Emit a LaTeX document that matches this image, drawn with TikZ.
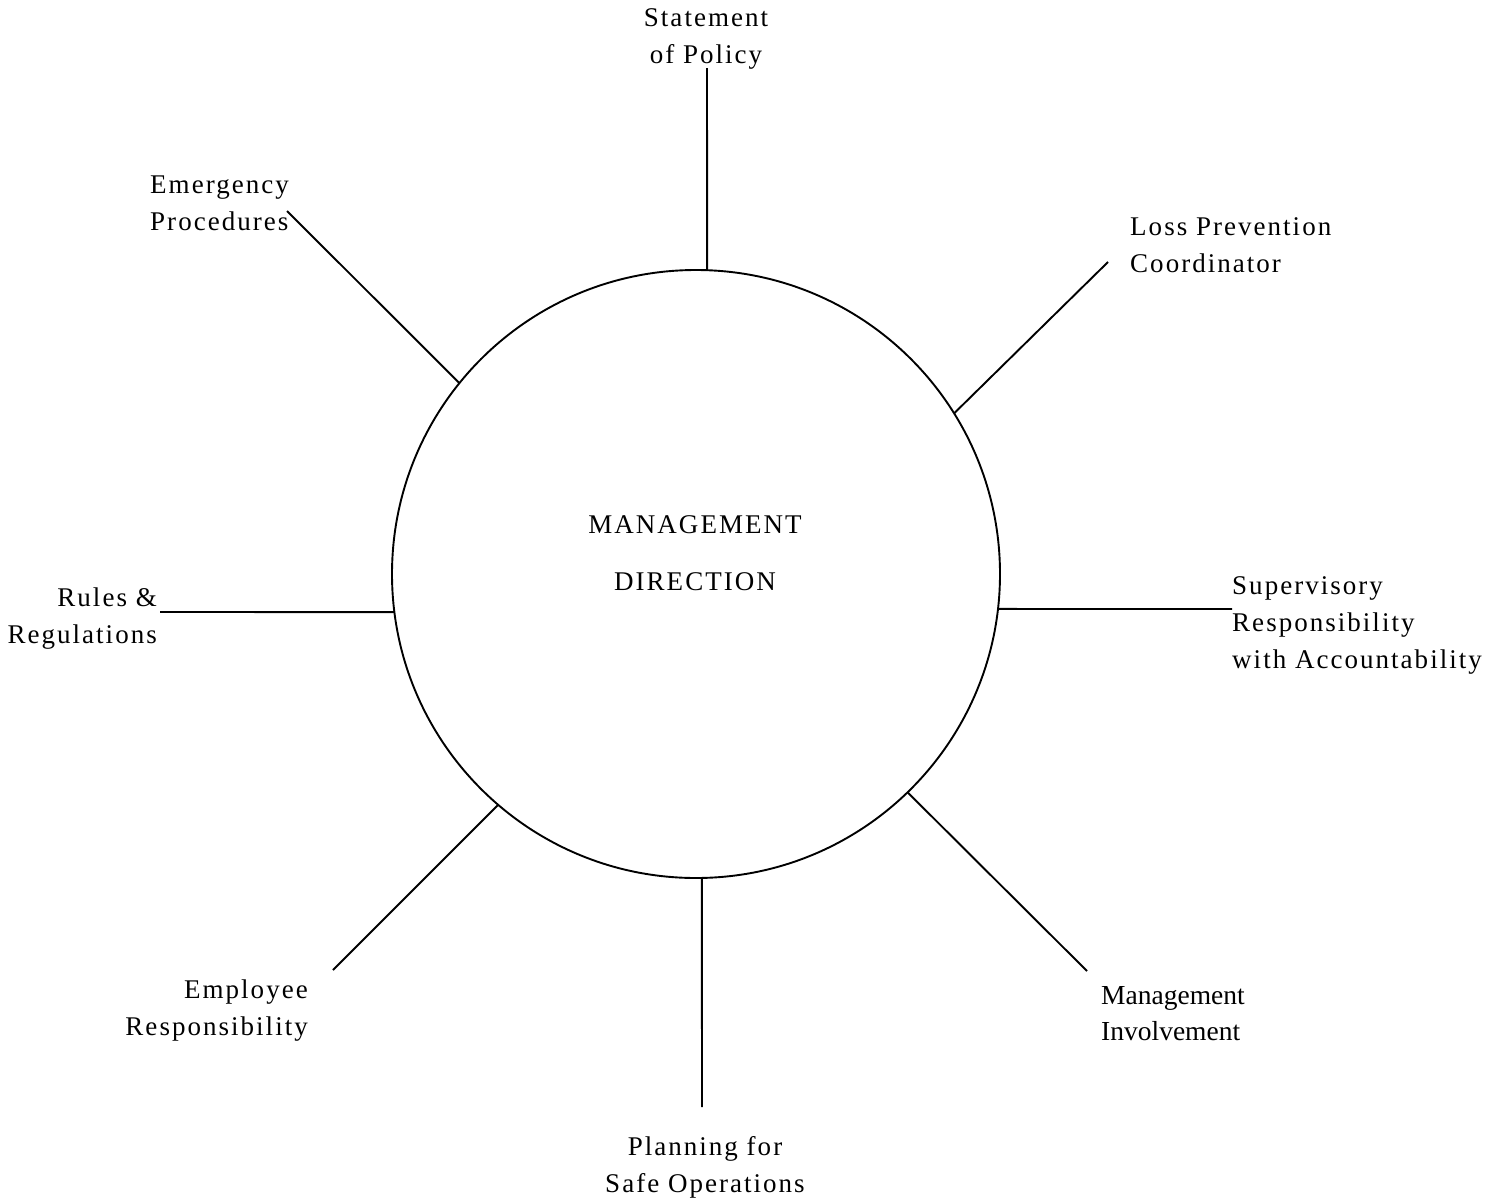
\documentclass[tikz,border=0pt]{standalone}
\usepackage{fontspec}
\setmainfont{Liberation Serif}
\newfontfamily\spaced[LetterSpace=7.5]{Liberation Serif}
\usetikzlibrary{calc}
\tikzset{
  lbl/.style={inner sep=0pt, font=\spaced\fontsize{27}{37}\selectfont},
  plain/.style={inner sep=0pt, font=\fontsize{27.5}{36}\selectfont},
  spoke/.style={line width=1.9pt},
}
\begin{document}
\begin{tikzpicture}[x=1pt,y=-1pt]
\useasboundingbox (0,0) rectangle (1497,1203);
\node[draw, circle, line width=1.9pt, minimum size=608pt, inner sep=0pt] (hub) at (696,574) {};
% anchor is the baseline of the last line
\node[lbl, align=center, anchor=base] (title) at (695,590) {MANAGEMENT\\[20pt]DIRECTION};
% labels
\node[lbl, align=center, anchor=base] (policy) at (706,63) {Statement\\of Policy};
\node[lbl, align=left, anchor=base west] (loss) at (1130,272) {Loss Prevention\\Coordinator};
\node[lbl, align=left, anchor=base west] (super) at (1232,668) {Supervisory\\Responsibility\\with Accountability};
\node[plain, align=left, anchor=base west] (involve) at (1101,1040) {Management\\Involvement};
\node[lbl, align=center, anchor=base] (plan) at (705,1192) {Planning for\\Safe Operations};
\node[lbl, align=right, anchor=base east] (employee) at (308,1035) {Employee\\Responsibility};
\node[lbl, align=right, anchor=base east] (rules) at (157,643) {Rules \&\\Regulations};
\node[lbl, align=left, anchor=base west] (emerg) at (150,230) {Emergency\\Procedures};
% free ends of spokes
\coordinate (e1) at (707,68);
\coordinate (e2) at (1108,262);
\coordinate (e3) at (1232,609);
\coordinate (e4) at (1087,971);
\coordinate (e5) at (702,1107);
\coordinate (e6) at (333,970);
\coordinate (e7) at (160,612);
\coordinate (e8) at (287,211);
\draw[spoke] ($(hub.center)+(-87.9:304)$) -- (e1);
\draw[spoke] ($(hub.center)+(-31.9:304)$) -- (e2);
\draw[spoke] ($(hub.center)+(6.6:304)$) -- (e3);
\draw[spoke] ($(hub.center)+(45.9:304)$) -- (e4);
\draw[spoke] ($(hub.center)+(88.9:304)$) -- (e5);
\draw[spoke] ($(hub.center)+(130.6:304)$) -- (e6);
\draw[spoke] ($(hub.center)+(172.8:304)$) -- (e7);
\draw[spoke] ($(hub.center)+(-141.1:304)$) -- (e8);
\end{tikzpicture}
\end{document}
